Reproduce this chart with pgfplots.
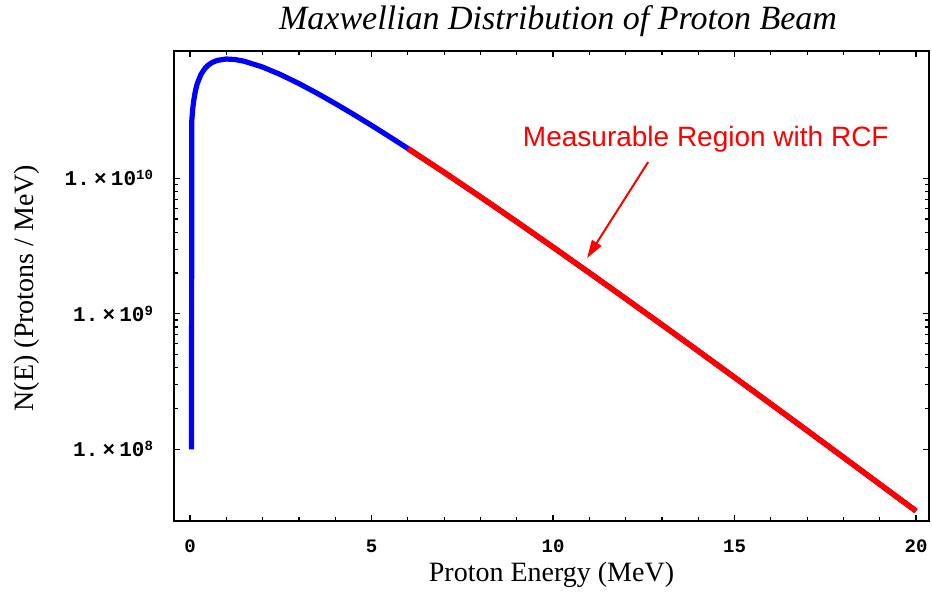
\documentclass[border=0pt]{standalone}
\usepackage{fontspec}
\setmainfont{Liberation Serif}
\setmonofont{Liberation Mono}
\newfontfamily\arialf{Liberation Sans}
\usepackage{pgfplots}
\pgfplotsset{compat=1.18}
\usetikzlibrary{arrows.meta}

\newcommand{\sci}[1]{1.\hspace{0.2em}×\hspace{0.2em}10\raisebox{0.55ex}{\fontsize{7bp}{8bp}\selectfont #1}}

\begin{document}
\begin{tikzpicture}
\path[use as bounding box] (0,0) rectangle (466bp,296bp);
\begin{axis}[
  at={(87bp,35.5bp)}, anchor=south west,
  scale only axis, width=377.5bp, height=235bp,
  clip mode=individual,
  ymode=log, xmin=-0.441, xmax=20.358, ymin=2.958e7, ymax=8.70e10,
  xtick={0,5,10,15,20}, minor x tick num=4,
  ytick={1e8,1e9,1e10},
  yticklabels={{\sci{8}},{\sci{9}},{\sci{10}}},
  /pgf/number format/assume math mode=true,
  axis line style={line width=1bp},
  every tick/.style={black, line width=0.6bp},
  major tick length=3bp, minor tick length=1.8bp,
  tick align=inside,
  xticklabel style={font=\ttfamily\bfseries\fontsize{9.5bp}{11bp}\selectfont, yshift=-6bp},
  yticklabel style={font=\ttfamily\bfseries\fontsize{10.5bp}{12bp}\selectfont, xshift=-7bp},
  xlabel={Proton Energy (MeV)},
  xlabel style={at={(axis description cs:0.5,-0.1298)}, anchor=base, font=\fontsize{14bp}{17bp}\selectfont},
  ylabel={N(E) (Protons / MeV)},
  ylabel style={at={(axis description cs:-0.1947,0.4957)}, anchor=center, font=\fontsize{14bp}{17bp}\selectfont},
]
\addplot[blue, line width=2.6bp, line join=round] coordinates {
 (0.04,1.0e8) (0.05,2.685e10) (0.075,3.25e10) (0.1,3.707e10) (0.15,4.433e10)
 (0.2,4.994e10) (0.3,5.832e10) (0.4,6.415e10) (0.5,6.833e10) (0.6,7.133e10)
 (0.75,7.416e10) (1.0,7.590e10) (1.25,7.52e10) (1.5,7.30e10) (2,6.622e10)
 (2.5,5.816e10) (3,5.003e10) (3.5,4.243e10) (4,3.563e10) (4.5,2.969e10)
 (5,2.458e10) (5.5,2.024e10) (6,1.660e10) (7,1.106e10) (8,7.295e9)
 (9,4.773e9) (10,3.104e9) (11,2.008e9) (12,1.294e9) (13,8.31e8)
 (14,5.32e8) (15,3.395e8) (16,2.164e8) (17,1.376e8) (18,8.73e7)
 (19,5.53e7) (20,3.504e7)
};
\addplot[red, line width=2.8bp, line join=round] coordinates {
 (6,1.660e10) (7,1.106e10) (8,7.295e9)
 (9,4.773e9) (10,3.104e9) (11,2.008e9) (12,1.294e9) (13,8.31e8)
 (14,5.32e8) (15,3.395e8) (16,2.164e8) (17,1.376e8) (18,8.73e7)
 (19,5.53e7) (20,3.504e7)
};
\node[font=\itshape\fontsize{17bp}{19bp}\selectfont, anchor=base] at (axis description cs:0.5086,1.0447) {Maxwellian Distribution of Proton Beam};
\node[font=\arialf\fontsize{14bp}{17bp}\selectfont, text=red, anchor=base] at (axis cs:14.21,1.72e10) {Measurable Region with RCF};
\draw[red, line width=1bp, -{Triangle[length=9bp,width=5.5bp]}] (axis cs:12.62,1.318e10) -- (axis cs:10.94,2.58e9);
\end{axis}
\end{tikzpicture}
\end{document}
